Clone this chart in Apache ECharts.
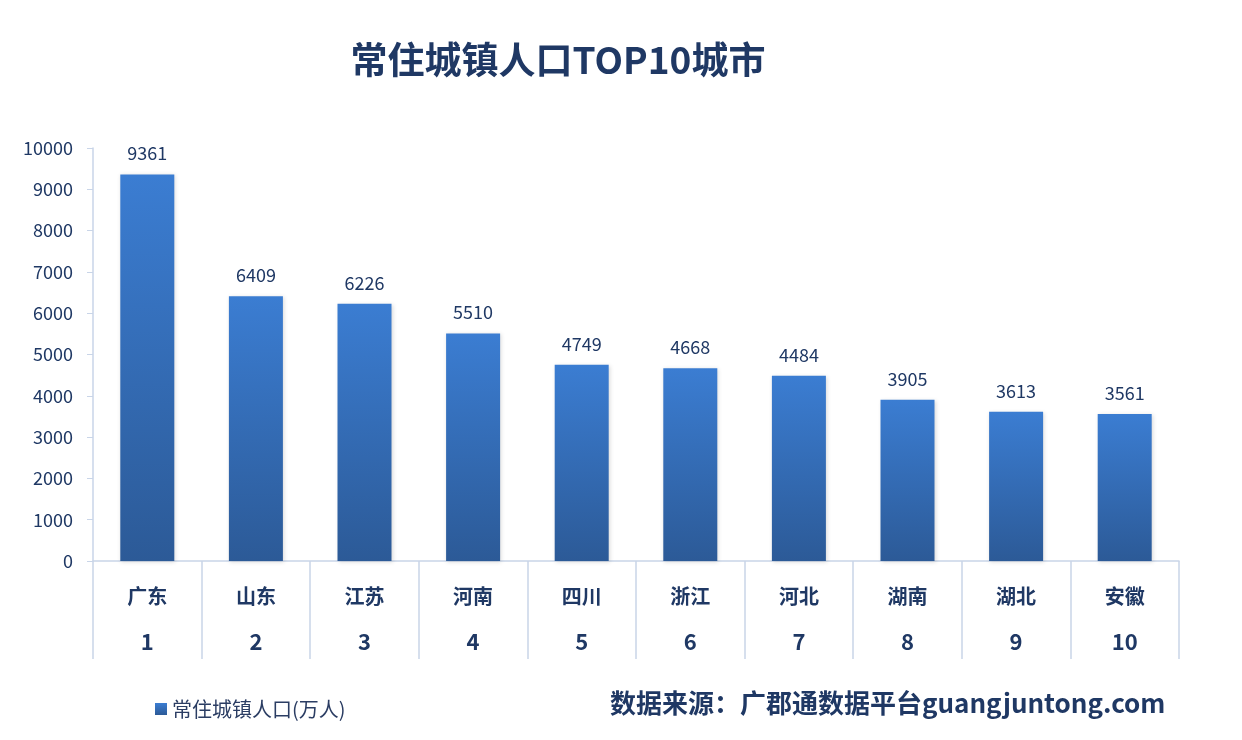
<!DOCTYPE html>
<html>
<head>
<meta charset="utf-8">
<script src="https://cdn.jsdelivr.net/npm/echarts@6/dist/echarts.min.js"></script>
<style>
  html, body { margin: 0; padding: 0; background: #fff; }
  #chart { width: 1242px; height: 740px; }
</style>
</head>
<body>
<div id="chart"></div>
<script>
// data
const provinces = ['广东', '山东', '江苏', '河南', '四川', '浙江', '河北', '湖南', '湖北', '安徽']
const ranks = ['1', '2', '3', '4', '5', '6', '7', '8', '9', '10']
const population = [9361, 6409, 6226, 5510, 4749, 4668, 4484, 3905, 3613, 3561]

const navy = '#1f3864'
const font = '"Noto Sans CJK SC", "Open Sans", sans-serif'

const chart = echarts.init(document.getElementById('chart'))

const options = {
  backgroundColor: '#fff',
  title: {
    text: '常住城镇人口TOP10城市',
    left: 553,
    top: 36,
    textAlign: 'center',
    textStyle: { color: navy, fontSize: 37, fontWeight: 'bold', fontFamily: font }
  },
  legend: {
    left: 150,
    top: 694,
    icon: 'rect',
    itemWidth: 12,
    itemHeight: 12,
    itemGap: 6,
    textStyle: { color: '#2b3d63', fontSize: 20, fontFamily: font }
  },
  grid: { left: 93, right: 63, top: 148, bottom: 179 },
  xAxis: {
    type: 'category',
    data: provinces.map((p, i) => p + '\n' + ranks[i]),
    axisLine: { lineStyle: { color: '#c9d5e8', width: 1.5 } },
    axisTick: { show: true, interval: 0, length: 98, lineStyle: { color: '#c9d5e8', width: 1.5 } },
    axisLabel: {
      interval: 0,
      margin: 12,
      formatter: v => {
        const [p, r] = v.split('\n')
        return '{p|' + p + '}\n{r|' + r + '}'
      },
      rich: {
        p: { color: navy, fontSize: 20, fontWeight: 'bold', fontFamily: font, lineHeight: 46 },
        r: { color: navy, fontSize: 22, fontWeight: 'bold', fontFamily: font, lineHeight: 46 }
      }
    }
  },
  yAxis: {
    type: 'value',
    min: 0,
    max: 10000,
    interval: 1000,
    axisLine: { show: true, lineStyle: { color: '#c9d5e8', width: 1.5 } },
    axisTick: { show: true, length: 6, lineStyle: { color: '#c9d5e8' } },
    splitLine: { show: false },
    axisLabel: { color: navy, fontSize: 18, fontFamily: font, margin: 20, formatter: v => String(v) }
  },
  series: [
    {
      name: '常住城镇人口(万人)',
      type: 'bar',
      data: population,
      barWidth: 54,
      itemStyle: {
        color: new echarts.graphic.LinearGradient(0, 0, 0, 1, [
          { offset: 0, color: '#3b7dd2' },
          { offset: 1, color: '#2c5a97' }
        ]),
        shadowColor: 'rgba(0,0,0,0.15)',
        shadowBlur: 4,
        shadowOffsetX: 1,
        shadowOffsetY: 1
      },
      label: {
        show: true,
        position: 'top',
        distance: 12,
        color: navy,
        fontSize: 18,
        fontFamily: font
      }
    }
  ],
  graphic: [
    {
      type: 'text',
      left: 610,
      top: 690,
      style: {
        text: '数据来源：广郡通数据平台guangjuntong.com',
        fill: navy,
        font: 'bold 26px ' + font
      }
    }
  ]
}

chart.setOption(options)
</script>
</body>
</html>
